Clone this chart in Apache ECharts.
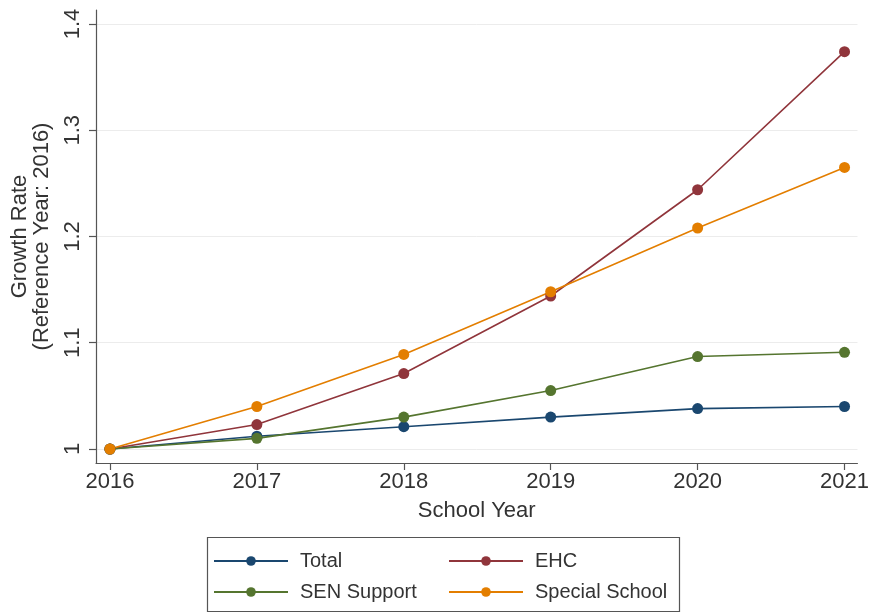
<!DOCTYPE html>
<html>
<head>
<meta charset="utf-8">
<script src="https://cdn.jsdelivr.net/npm/echarts@6/dist/echarts.min.js"></script>
<style>
html,body{margin:0;padding:0;background:#fff;}
#chart{width:872px;height:613px;}
</style>
</head>
<body>
<div id="chart"></div>
<script>
const years = [2016, 2017, 2018, 2019, 2020, 2021];
const totalValues = [1.000, 1.012, 1.021, 1.030, 1.038, 1.040];
const ehcValues = [1.000, 1.023, 1.071, 1.144, 1.244, 1.374];
const senValues = [1.000, 1.010, 1.030, 1.055, 1.087, 1.091];
const specialValues = [1.000, 1.040, 1.089, 1.148, 1.208, 1.265];
const yTicks = [1, 1.1, 1.2, 1.3, 1.4];
const xTicks = [2016, 2017, 2018, 2019, 2020, 2021];
const seriesNames = ['Total', 'EHC', 'SEN Support', 'Special School'];
const seriesColors = ['#1a476f', '#90353b', '#55752f', '#e37e00'];

const FONT = '"Liberation Sans", Arial, Helvetica, sans-serif';
const pairs = vals => years.map((y, i) => [y, vals[i]]);
const allValues = [totalValues, ehcValues, senValues, specialValues];

const chart = echarts.init(document.getElementById('chart'), null, {renderer: 'canvas'});
const option = {
  backgroundColor: '#ffffff',
  animation: false,
  grid: {left: 96, right: 12, top: 10, bottom: 150, containLabel: false},
  xAxis: {
    type: 'value',
    min: 2015.905, max: 2021.088,
    name: 'School Year',
    nameLocation: 'middle',
    nameGap: 37,
    nameTextStyle: {fontFamily: FONT, fontSize: 22, color: '#333'},
    axisLine: {show: true, lineStyle: {color: '#555', width: 1.2}},
    axisTick: {show: true, length: 7, customValues: xTicks, lineStyle: {color: '#555', width: 1.2}},
    axisLabel: {customValues: xTicks, fontFamily: FONT, fontSize: 22, color: '#333', margin: 8, formatter: v => String(v)},
    splitLine: {show: false}
  },
  yAxis: {
    type: 'value',
    min: 0.98682, max: 1.41318,
    name: 'Growth Rate\n(Reference Year: 2016)',
    nameLocation: 'middle',
    nameGap: 43,
    nameTextStyle: {fontFamily: FONT, fontSize: 22, color: '#333', lineHeight: 22},
    axisLine: {show: true, lineStyle: {color: '#555', width: 1.2}},
    axisTick: {show: true, length: 7, customValues: yTicks, lineStyle: {color: '#555', width: 1.2}},
    axisLabel: {customValues: yTicks, rotate: 90, fontFamily: FONT, fontSize: 22, color: '#333', margin: 12, formatter: v => String(v)},
    splitLine: {show: true, lineStyle: {color: '#ececec', width: 1}}
  },
  legend: [
    {
      data: ['Total', 'SEN Support'],
      orient: 'vertical', left: 213, top: 551, padding: 0,
      itemWidth: 74, itemHeight: 12, itemGap: 11,
      textStyle: {fontFamily: FONT, fontSize: 20, color: '#333', padding: [0, 0, 0, 7]}
    },
    {
      data: ['EHC', 'Special School'],
      orient: 'vertical', left: 448, top: 551, padding: 0,
      itemWidth: 74, itemHeight: 12, itemGap: 11,
      textStyle: {fontFamily: FONT, fontSize: 20, color: '#333', padding: [0, 0, 0, 7]}
    }
  ],
  graphic: [{
    type: 'rect', left: 205, top: 535,
    shape: {width: 472, height: 74},
    style: {fill: 'none', stroke: '#555', lineWidth: 1.2}
  }],
  series: seriesNames.map((name, i) => ({
    name: name,
    type: 'line',
    data: pairs(allValues[i]),
    symbol: 'circle',
    symbolSize: 11,
    color: seriesColors[i],
    lineStyle: {width: 1.6, color: seriesColors[i]},
    itemStyle: {color: seriesColors[i]}
  }))
};
chart.setOption(option);
</script>
</body>
</html>
